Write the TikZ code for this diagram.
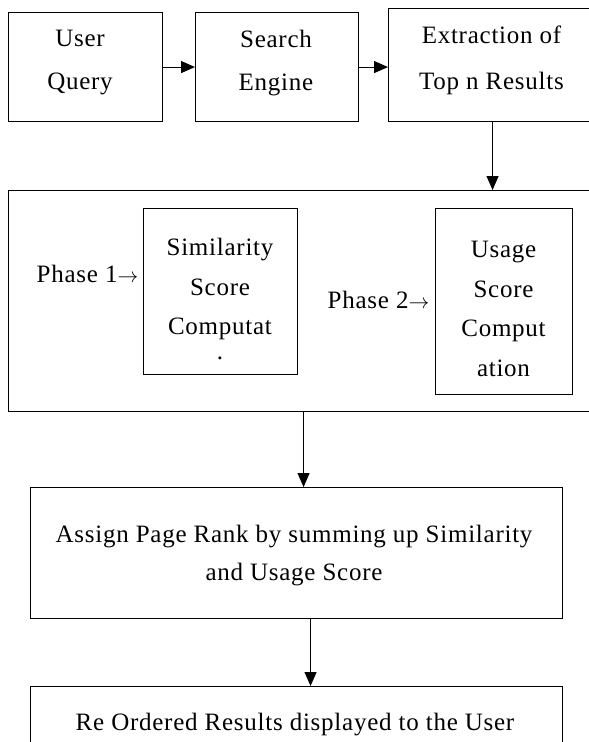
\documentclass[tikz,border=0pt]{standalone}
\usepackage{fontspec}
\setmainfont{Liberation Serif}[LetterSpace=3]
\usetikzlibrary{arrows.meta}
\begin{document}
\begin{tikzpicture}[x=1pt,y=-1pt,
  box/.style={draw,line width=1.1pt,inner sep=0pt,anchor=north west},
  lbl/.style={align=center,inner sep=0pt,font=\fontsize{25}{#1}\selectfont},
  lbl/.default=40,
  arr/.style={line width=1.1pt,-{Triangle[length=14pt,width=12pt]}}]
\useasboundingbox (0,0) rectangle (589,742);
\fill[white] (0,0) rectangle (589,742);
% boxes
\node[box,minimum width=154pt,minimum height=109pt] (uq) at (8,12) {};
\node[box,minimum width=163pt,minimum height=109pt] (se) at (195,12) {};
\node[box,minimum width=210pt,minimum height=113pt] (ex) at (388,8) {};
\node[box,minimum width=590pt,minimum height=221pt] (ph) at (8,190) {};
\node[box,minimum width=154pt,minimum height=166pt] (sim) at (143,208) {};
\node[box,minimum width=137pt,minimum height=186pt] (us) at (435,208) {};
\node[box,minimum width=532pt,minimum height=131pt] (pr) at (30,487) {};
\node[box,minimum width=532pt,minimum height=80pt] (ro) at (30,686) {};
% labels
\node[lbl=43] (tuq) at (80,63) {User\\Query};
\node[lbl=43] (tse) at (276,63) {Search\\Engine};
\node[lbl=46] (tex) at (491.5,60.5) {Extraction of\\Top n Results};
\node[lbl] (tp1) at (87.5,274) {Phase 1{\fontsize{22}{22}\selectfont$\rightarrow$}};
\node[lbl] (tp2) at (378.5,300) {Phase 2{\fontsize{22}{22}\selectfont$\rightarrow$}};
\node[lbl=39.5] (tsim) at (220,289) {Similarity\\Score\\Computat};
\node[lbl] (tdot) at (220,358) {.};
\node[lbl=39.5] (tus) at (503.5,308.75) {Usage\\Score\\Comput\\ation};
\node[lbl=38] (tpr) at (294,556) {Assign Page Rank by summing up Similarity\\and Usage Score};
\node[lbl] (tro) at (295,725) {Re Ordered Results displayed to the User};
% connectors
\draw[arr] (uq.east) -- (se.west);
\draw[arr] (se.east) -- (se.east -| ex.west);
\draw[arr] ([xshift=-1pt]ex.south) -- ([xshift=-1pt]ex.south |- ph.north);
\draw[arr] (ph.south) -- (ph.south |- pr.north);
\draw[arr] ([xshift=14pt]pr.south) -- ([xshift=14pt]pr.south |- ro.north);
\end{tikzpicture}
\end{document}
